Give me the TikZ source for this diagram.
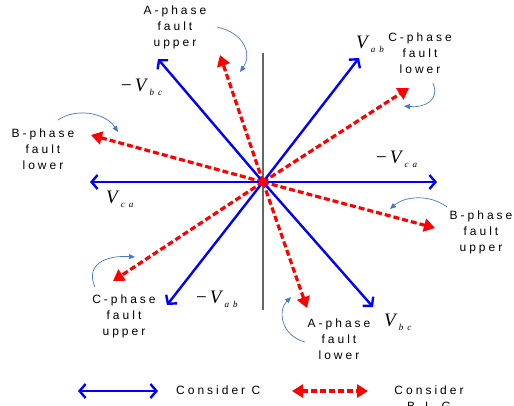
\documentclass[tikz,border=0pt]{standalone}
\usepackage{fontspec}
\setmainfont{Liberation Sans}
\newfontfamily\lblfont[LetterSpace=25]{Liberation Sans}
\newfontfamily\vfont{Liberation Serif}
\newfontfamily\vsubfont[LetterSpace=45]{Liberation Serif}
\usetikzlibrary{arrows.meta}
\definecolor{vblue}{RGB}{0,0,255}
\definecolor{vred}{RGB}{255,0,0}
\definecolor{cblue}{RGB}{70,120,200}
\tikzset{
  x=1pt,y=-1pt,
  bluearr/.style={draw=vblue,line width=2.4pt,-{Straight Barb[length=6pt,width=14pt,line width=2.4pt]}},
  redarr/.style={draw=vred,line width=3.2pt,dash pattern=on 6pt off 3pt,-{Triangle[length=11pt,width=13pt]}},
  lbl/.style={font=\lblfont\fontsize{12}{16}\selectfont,align=center,inner sep=0pt},
  vlbl/.style={inner sep=0pt,anchor=base west},
  curv/.style={draw=cblue,line width=0.7pt,-{Triangle[length=6pt,width=5pt]}},
}
\newcommand{\vlab}[1]{{\vfont\itshape\fontsize{19}{18}\selectfont V}\hspace{3pt}\raisebox{-4pt}{\vsubfont\itshape\fontsize{9}{9}\selectfont #1}}
\newcommand{\vminus}{{\vfont\fontsize{19}{18}\selectfont \char"2212}\hspace{3pt}}
\begin{document}
\begin{tikzpicture}
\useasboundingbox (0,0) rectangle (514,405);
\coordinate (o) at (263,182);
\coordinate (vt) at (263,53);
\coordinate (vb) at (263,310);
\draw[draw=black!60,line width=1.3pt] (vt) -- (vb);
% blue tips
\coordinate (vab) at (359,58);
\coordinate (mvca) at (437,182);
\coordinate (vca) at (90,182);
\coordinate (mvbc) at (158,59);
\coordinate (mvab) at (167,305);
\coordinate (vbc) at (373,307);
% red tips
\coordinate (au) at (220,55);
\coordinate (cl) at (409,88);
\coordinate (bl) at (91,135);
\coordinate (bu) at (435,228);
\coordinate (cu) at (113,281);
\coordinate (al) at (307,308);
\foreach \t in {au,cl,bl,bu,cu,al} \draw[redarr] (o) -- (\t);
\foreach \t in {vab,mvca,vca,mvbc,mvab,vbc} \draw[bluearr] (o) -- (\t);
\fill[vred] (o) circle (4.5);
% labels
\node[lbl] (lau) at (175,27) {A-phase\\fault\\upper};
\node[lbl] (lbl) at (43,149) {B-phase\\fault\\lower};
\node[lbl] (lcl) at (420,53) {C-phase\\fault\\lower};
\node[lbl] (lbu) at (481,232) {B-phase\\fault\\upper};
\node[lbl] (lcu) at (124,316) {C-phase\\fault\\upper};
\node[lbl] (lal) at (339,339) {A-phase\\fault\\lower};
\node[vlbl] (tvab) at (356,48) {\vlab{ab}};
\node[vlbl] (tmvca) at (376,163) {\vminus\vlab{ca}};
\node[vlbl] (tvca) at (106,203) {\vlab{ca}};
\node[vlbl] (tmvbc) at (121,91) {\vminus\vlab{bc}};
\node[vlbl] (tmvab) at (196,303) {\vminus\vlab{ab}};
\node[vlbl] (tvbc) at (384,326) {\vlab{bc}};
% curved pointers
\draw[curv] (217,27) .. controls (245,33) and (252,55) .. (240,72);
\draw[curv] (58,120) .. controls (75,108) and (105,112) .. (118,132);
\draw[curv] (433,83) .. controls (440,100) and (425,108) .. (404,106);
\draw[curv] (447,207) .. controls (430,194) and (405,196) .. (390,209);
\draw[curv] (95,287) .. controls (85,265) and (105,255) .. (135,257);
\draw[curv] (305,342) .. controls (280,335) and (278,310) .. (291,297);
% legend
\coordinate (l1a) at (78,391);
\coordinate (l1b) at (158,391);
\coordinate (l2a) at (292,391);
\coordinate (l2b) at (368,391);
\draw[draw=vblue,line width=2.4pt,{Straight Barb[length=6pt,width=14pt,line width=2.4pt]}-{Straight Barb[length=6pt,width=14pt,line width=2.4pt]}] (l1a) -- (l1b);
\draw[draw=vred,line width=3.2pt,dash pattern=on 6pt off 3pt,{Triangle[length=11pt,width=13pt]}-{Triangle[length=11pt,width=13pt]}] (l2a) -- (l2b);
\node[lbl,anchor=west] (leg1) at (176,390) {Consider C};
\node[lbl,anchor=north] (leg2) at (429,386) {Consider\\B-L-G};
\end{tikzpicture}
\end{document}
